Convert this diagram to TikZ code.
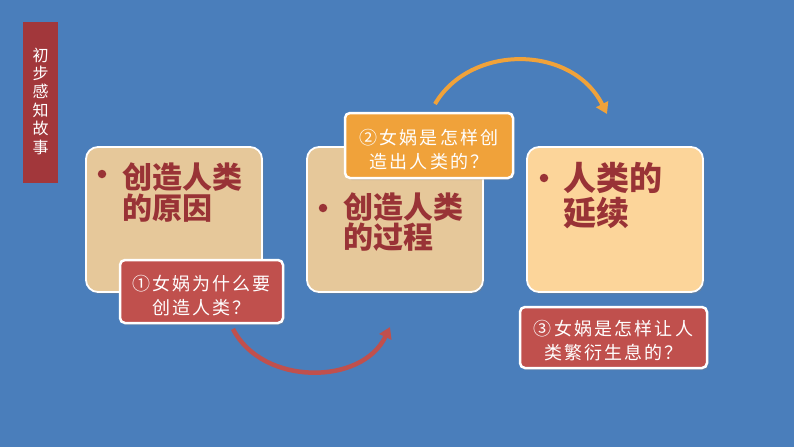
\documentclass[tikz,border=0pt]{standalone}
\usepackage{fontspec}
\setmainfont{Noto Sans CJK SC}
\newfontfamily\boxfont{Noto Sans CJK SC}
\newfontfamily\lblfont{Noto Sans CJK SC}[LetterSpace=12]
\usetikzlibrary{arrows.meta,shadows}
\definecolor{bgblue}{HTML}{4A7EBB}
\definecolor{tanfill}{HTML}{E6C89A}
\definecolor{peachfill}{HTML}{FCD59A}
\definecolor{lblred}{HTML}{C0504D}
\definecolor{lblorange}{HTML}{F0A23A}
\definecolor{txtred}{HTML}{993336}
\definecolor{sidered}{HTML}{A2373B}
\tikzset{
  mainbox/.style={draw=white, line width=1.8pt, rounded corners=12pt, minimum width=176pt, minimum height=145pt, inner sep=0pt,
    drop shadow={opacity=0.35, shadow xshift=1.5pt, shadow yshift=-2pt}},
  qlabel/.style={draw=white, line width=2.5pt, rounded corners=5pt, inner sep=0pt,
    drop shadow={opacity=0.35, shadow xshift=1.5pt, shadow yshift=-2pt}},
  qtext/.style={inner sep=0pt, text=white, align=center, font=\lblfont\fontsize{18}{24.5}\selectfont},
  boxtext/.style={anchor=base west, inner sep=0pt, text=txtred, font=\boxfont\bfseries\fontsize{30}{31}\selectfont},
  boxtextbig/.style={anchor=base west, inner sep=0pt, text=txtred, font=\boxfont\bfseries\fontsize{33}{34}\selectfont},
  bulletdot/.style={circle, fill=txtred, inner sep=0pt, minimum size=8.5pt},
  flowarrow/.style={line width=4pt, -{Triangle[length=11pt,width=13pt]}}
}
\begin{document}
\begin{tikzpicture}[x=1pt,y=-1pt]
\useasboundingbox (0,0) rectangle (794,447);
\fill[bgblue] (0,0) rectangle (794,447);

% side bar
\node[fill=sidered, minimum width=35pt, minimum height=161pt, inner sep=0pt] (side) at (40.5,102.5) {};
\node[text=white, align=center, inner sep=0pt, font=\fontsize{16}{18.4}\selectfont] (sidetext) at (40.5,101) {初\\步\\感\\知\\故\\事};

% main boxes
\node[mainbox, fill=tanfill] (box1) at (174,219.5) {};
\node[mainbox, fill=tanfill] (box2) at (395,219.5) {};
\node[mainbox, fill=peachfill] (box3) at (615,219.5) {};

% box texts
\node[bulletdot] (b1) at (102,174) {};
\node[boxtext] (t1a) at (122,188) {创造人类};
\node[boxtext] (t1b) at (122,219) {的原因};

\node[bulletdot] (b2) at (323,208) {};
\node[boxtext] (t2a) at (343,218) {创造人类};
\node[boxtext] (t2b) at (343,248) {的过程};

\node[bulletdot] (b3) at (544,178) {};
\node[boxtextbig] (t3a) at (563,190) {人类的};
\node[boxtextbig] (t3b) at (563,225) {延续};

% arrows
\coordinate (oa) at (435,104);
\coordinate (ob) at (607,114);
\draw[flowarrow, lblorange] (oa) .. controls (470,44) and (572,44) .. (ob);
\coordinate (ra) at (233,329);
\coordinate (rb) at (390,327);
\draw[flowarrow, lblred, line width=4.5pt] (ra) .. controls (262,386) and (362,386) .. (rb);

% question labels
\node[qlabel, fill=lblred, minimum width=163pt, minimum height=63pt] (q1) at (201.5,291.5) {};
\node[qtext] (q1t) at (201.5,295.5) {①女娲为什么要\\创造人类？};
\node[qlabel, fill=lblorange, minimum width=168pt, minimum height=65pt] (q2) at (429,145.5) {};
\node[qtext] (q2t) at (429,149.5) {②女娲是怎样创\\造出人类的？};
\node[qlabel, fill=lblred, minimum width=187pt, minimum height=61pt] (q3) at (613.5,337.5) {};
\node[qtext] (q3t) at (613.5,340.5) {③女娲是怎样让人\\类繁衍生息的？};
\end{tikzpicture}
\end{document}
